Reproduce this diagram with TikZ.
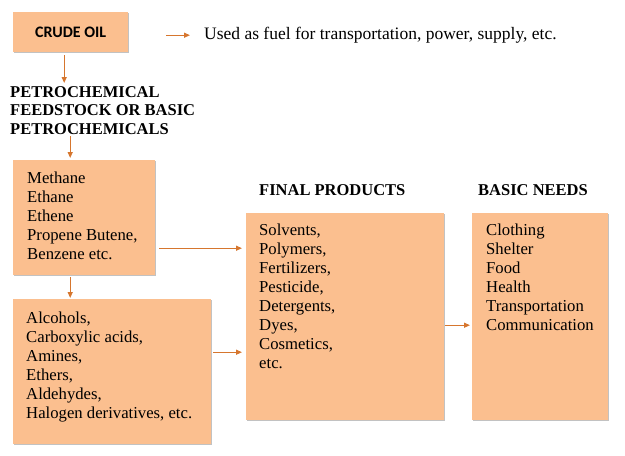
\documentclass[tikz,border=0pt]{standalone}
\usepackage{fontspec}
\setmainfont{Liberation Serif}
\newfontfamily\calfont{Carlito}
\usetikzlibrary{arrows.meta,positioning,shadows}
\definecolor{pfill}{RGB}{251,191,143}
\definecolor{parrow}{RGB}{214,118,46}

\begin{document}
\begin{tikzpicture}[x=1pt,y=-1pt,>={Triangle[length=6pt,width=5pt]},font=\fontsize{16.7}{18.9}\selectfont]
\tikzstyle{pbox}=[fill=pfill, anchor=north west, inner sep=0pt, drop shadow={shadow xshift=1.2pt, shadow yshift=-1.2pt, fill=black!40, opacity=0.6}]
\tikzstyle{list}=[anchor=north west, align=left, inner sep=0pt]
\tikzstyle{head}=[align=left, inner sep=0pt, font=\fontsize{16.5}{18.5}\selectfont\bfseries]
\tikzstyle{flow}=[->, parrow, line width=1.2pt]

\useasboundingbox (0,0) rectangle (625,456);

% boxes
\node[pbox, minimum width=115pt, minimum height=40pt, font=\calfont\fontsize{16}{18}\selectfont\bfseries] (crude) at (13,12) {CRUDE OIL};
\node[anchor=base west, inner sep=0pt, font=\fontsize{17.5}{20}\selectfont] (fuel) at (204,39) {Used as fuel for transportation, power, supply, etc.};
\node[head, anchor=north west] (petro) at (10,86) {PETROCHEMICAL\\FEEDSTOCK OR BASIC\\PETROCHEMICALS};

\node[pbox, minimum width=142pt, minimum height=115pt] (feed) at (13,160) {};
\node[list] (feedtxt) at ([xshift=14pt,yshift=-12pt]feed.north west) {Methane\\Ethane\\Ethene\\Propene Butene,\\Benzene etc.};

\node[pbox, minimum width=198pt, minimum height=145pt] (chem) at (13,299) {};
\node[list] (chemtxt) at ([xshift=13pt,yshift=-13pt]chem.north west) {Alcohols,\\Carboxylic acids,\\Amines,\\Ethers,\\Aldehydes,\\Halogen derivatives, etc.};

\node[head, anchor=base west] (fphead) at (259,195) {FINAL PRODUCTS};
\node[pbox, minimum width=198pt, minimum height=207pt] (fp) at (246,213) {};
\node[list] (fptxt) at ([xshift=13pt,yshift=-11pt]fp.north west) {Solvents,\\Polymers,\\Fertilizers,\\Pesticide,\\Detergents,\\Dyes,\\Cosmetics,\\etc.};

\node[head, anchor=base west] (needhead) at (478,195) {BASIC NEEDS};
\node[pbox, minimum width=136pt, minimum height=207pt] (need) at (472,213) {};
\node[list] (needtxt) at ([xshift=14pt,yshift=-11pt]need.north west) {Clothing\\Shelter\\Food\\Health\\Transportation\\Communication};

% arrows
\coordinate (a5) at ([xshift=38pt,yshift=-3pt]crude.east);
\draw[flow, shorten >=14pt] (a5) -- (a5 -| fuel.west);
\coordinate (a4) at ([xshift=-6.5pt]crude.south);
\draw[flow, shorten <=3pt, shorten >=3pt] (a4) -- (a4 |- petro.north);
\coordinate (a3) at ([xshift=-14pt]feed.north);
\draw[flow, shorten <=2pt, shorten >=2pt] (a3 |- petro.south) -- (a3);
\coordinate (a2) at ([xshift=-14pt]feed.south);
\draw[flow, shorten <=2pt, shorten >=1pt] (a2) -- (a2 |- chem.north);
\coordinate (a1) at ([xshift=4pt,yshift=-30.5pt]feed.east);
\draw[flow, shorten >=4pt] (a1) -- (a1 -| fp.west);
\coordinate (b1) at ([xshift=2pt,yshift=19.5pt]chem.east);
\draw[flow, shorten >=4pt] (b1) -- (b1 -| fp.west);
\coordinate (c1) at ([xshift=1pt,yshift=-8.5pt]fp.east);
\draw[flow, shorten >=2pt] (c1) -- (c1 -| need.west);
\end{tikzpicture}
\end{document}
